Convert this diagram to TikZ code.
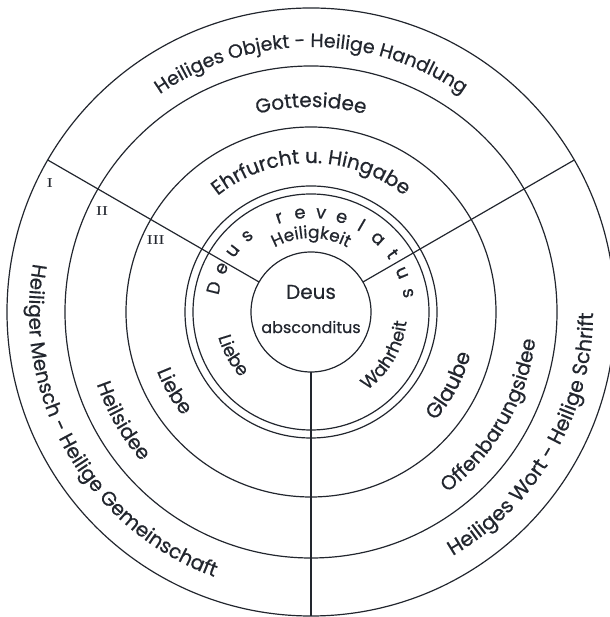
\documentclass[tikz,border=0pt]{standalone}
\usepackage{fontspec}
\newfontfamily\fut[FakeBold=0.6]{Poppins}
\usetikzlibrary{decorations.text,calc}
\definecolor{ink}{RGB}{34,38,46}
\newcommand\arccw[3]{% radius, size, text (clockwise over the top, centred at 90)
  \path[decorate,decoration={text along path,text align=center,text color=ink,
    text={|\fut\fontsize{#2}{#2}\selectfont|#3}}]
    ($(C)+(180:#1)$) arc[start angle=180,end angle=0,radius=#1];}
\newcommand\arcccw[4]{% centre angle, radius, size, text (counterclockwise, tops inward)
  \path[decorate,decoration={text along path,text align=center,text color=ink,
    text={|\fut\fontsize{#3}{#3}\selectfont|#4}}]
    ($(C)+({#1-90}:#2)$) arc[start angle={#1-90},end angle={#1+90},radius=#2];}
\begin{document}
\begin{tikzpicture}[x=1pt,y=1pt,
  ring/.style={line width=1.2pt,draw=ink},
  roman/.style={text=ink,font=\fontsize{13}{13}\selectfont\bfseries,inner sep=0pt},
  rev/.style={text=ink,font=\fut\fontsize{18}{18}\selectfont,anchor=base,inner sep=0pt},
  centre/.style={text=ink,inner sep=0pt}]
\useasboundingbox (0,0) rectangle (609,617);
\coordinate (C) at (311,305);
\foreach \r in {304,246,185,126,118,60}
  \draw[ring] (C) circle[radius=\r];
\foreach \a [count=\i] in {150,30,270}{
  \coordinate (in\i) at ($(C)+(\a:60)$);
  \coordinate (out\i) at ($(C)+(\a:304)$);
  \draw[ring] (in\i) -- (out\i);}
% top sector
\arccw{265}{19}{Heiliges Objekt - Heilige Handlung}
\arccw{205}{20}{Gottesidee}
\arccw{149}{20}{Ehrfurcht u. Hingabe}
\arccw{74}{17}{Heiligkeit}
% left sector
\arcccw{210}{282}{20}{Heiliger Mensch - Heilige Gemeinschaft}
\arcccw{210}{226}{20}{Heilsidee}
\arcccw{210}{165}{20}{Liebe}
\arcccw{209}{96}{18}{Liebe}
% right sector
\arcccw{330}{282}{20.5}{Heiliges Wort - Heilige Schrift}
\arcccw{330}{226}{20}{Offenbarungsidee}
\arcccw{332}{165}{21}{Glaube}
\arcccw{330}{96}{18}{Wahrheit}
% Deus revelatus
\foreach \ang/\ch [count=\i] in {166/D,154/e,142/u,130/s,108.6/r,96.4/e,84.2/v,72/e,59.8/l,47.6/a,35.4/t,23.2/u,11/s}
  \node[rev,rotate=\ang-90] (rv\i) at ($(C)+(\ang:94)$) {\ch};
% centre
\node[centre,font=\fut\fontsize{20}{20}\selectfont] (deus) at (311,325) {Deus};
\node[centre,font=\fut\fontsize{16}{16}\selectfont] (absc) at (311,290) {absconditus};
% roman numerals
\node[roman] (n1) at ($(C)+(153.8:291)$) {I};
\node[roman] (n2) at ($(C)+(154.2:232)$) {II};
\node[roman] (n3) at ($(C)+(155.2:171)$) {III};
\end{tikzpicture}
\end{document}
